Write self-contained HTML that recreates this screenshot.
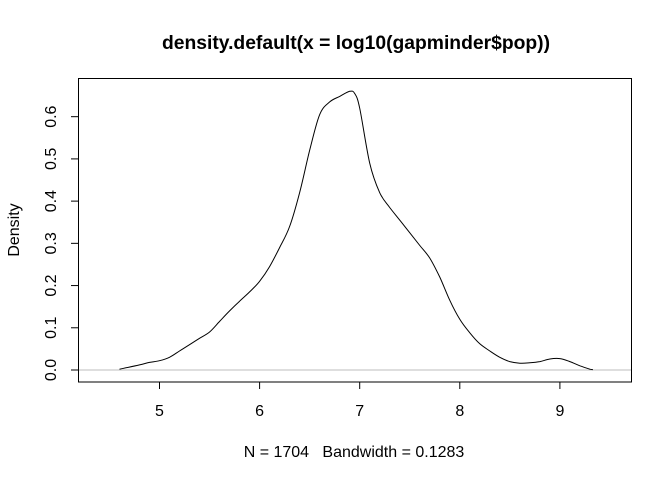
<!DOCTYPE html>
<html><head><meta charset="utf-8"><style>
body{margin:0;background:#fff}
svg{display:block;font-family:"Liberation Sans",Arial,sans-serif}
text{white-space:pre}
</style></head><body>
<svg width="672" height="480" viewBox="0 0 672 480">
<rect x="0" y="0" width="672" height="480" fill="#fff"/>
<text x="356" y="49" text-anchor="middle" font-size="19.3" font-weight="bold">density.default(x = log10(gapminder$pop))</text>
<text x="354" y="457" text-anchor="middle" font-size="16" xml:space="preserve">N = 1704   Bandwidth = 0.1283</text>
<text transform="translate(19,230) rotate(-90)" text-anchor="middle" font-size="16">Density</text>
<g id="axes"></g>
<line x1="78.5" x2="631.5" y1="370" y2="370" stroke="#bebebe" stroke-width="1"/>
<path id="curve" fill="none" stroke="#000" stroke-width="1"/>
<rect x="78.5" y="78.5" width="553" height="303.5" fill="none" stroke="#000" stroke-width="1"/>
</svg>
<script>
const xs = [4.6,4.8,4.9,5.0,5.1,5.2,5.3,5.4,5.5,5.6,5.7,5.8,5.9,6.0,6.1,6.2,6.3,6.4,6.5,6.6,6.7,6.8,6.9,6.95,7.0,7.1,7.2,7.3,7.4,7.5,7.6,7.7,7.8,7.9,8.0,8.1,8.2,8.3,8.4,8.5,8.6,8.7,8.8,8.9,9.0,9.1,9.2,9.3,9.33];
const ys = [0.002,0.012,0.018,0.022,0.03,0.045,0.06,0.075,0.09,0.115,0.14,0.163,0.185,0.21,0.245,0.29,0.34,0.42,0.52,0.605,0.635,0.648,0.66,0.655,0.62,0.49,0.42,0.385,0.355,0.325,0.295,0.265,0.22,0.165,0.12,0.088,0.062,0.045,0.03,0.02,0.016,0.017,0.02,0.026,0.027,0.02,0.01,0.002,0.001];
const xTicks = [5,6,7,8,9];
const yTicks = [0,0.1,0.2,0.3,0.4,0.5,0.6];
const yTickLabels = ["0.0","0.1","0.2","0.3","0.4","0.5","0.6"];
function sx(v){return 159.5+(v-5)*100.1;}
function sy(v){return 370-v*422.2;}
const NS="http://www.w3.org/2000/svg";
const g=document.getElementById('axes');
function mk(t,a){const e=document.createElementNS(NS,t);for(const k in a)e.setAttribute(k,a[k]);g.appendChild(e);return e;}
const xl=mk('line',{x1:sx(xTicks[0]),x2:sx(xTicks[xTicks.length-1]),y1:382,y2:382,stroke:'#000'});


xTicks.forEach(v=>{
 const l=mk('line',{x1:sx(v),x2:sx(v),y1:382,y2:389,stroke:'#000'});
 
 
 const t=mk('text',{x:sx(v),y:416,'text-anchor':'middle','font-size':16});
 t.textContent=v;
 
 
});
const yl=mk('line',{x1:78.5,x2:78.5,y1:sy(yTicks[0]),y2:sy(yTicks[yTicks.length-1]),stroke:'#000'});


yTicks.forEach((v,i)=>{
 const l=mk('line',{x1:71,x2:78.5,y1:sy(v),y2:sy(v),stroke:'#000'});
 
 
 const t=mk('text',{transform:`translate(56,${sy(v)}) rotate(-90)`,'text-anchor':'middle','font-size':16});
 t.textContent=yTickLabels[i];
 
 
});
const P=xs.map((x,i)=>[sx(x),sy(ys[i])]);
let d='M'+P[0][0].toFixed(1)+','+P[0][1].toFixed(1);
for(let i=0;i<P.length-1;i++){
 const p0=P[Math.max(0,i-1)],p1=P[i],p2=P[i+1],p3=P[Math.min(P.length-1,i+2)];
 const c1=[p1[0]+(p2[0]-p0[0])/6,p1[1]+(p2[1]-p0[1])/6];
 const c2=[p2[0]-(p3[0]-p1[0])/6,p2[1]-(p3[1]-p1[1])/6];
 d+='C'+c1.map(n=>n.toFixed(1)).join(',')+' '+c2.map(n=>n.toFixed(1)).join(',')+' '+p2.map(n=>n.toFixed(1)).join(',');
}
document.getElementById('curve').setAttribute('d',d);
</script>
</body></html>
